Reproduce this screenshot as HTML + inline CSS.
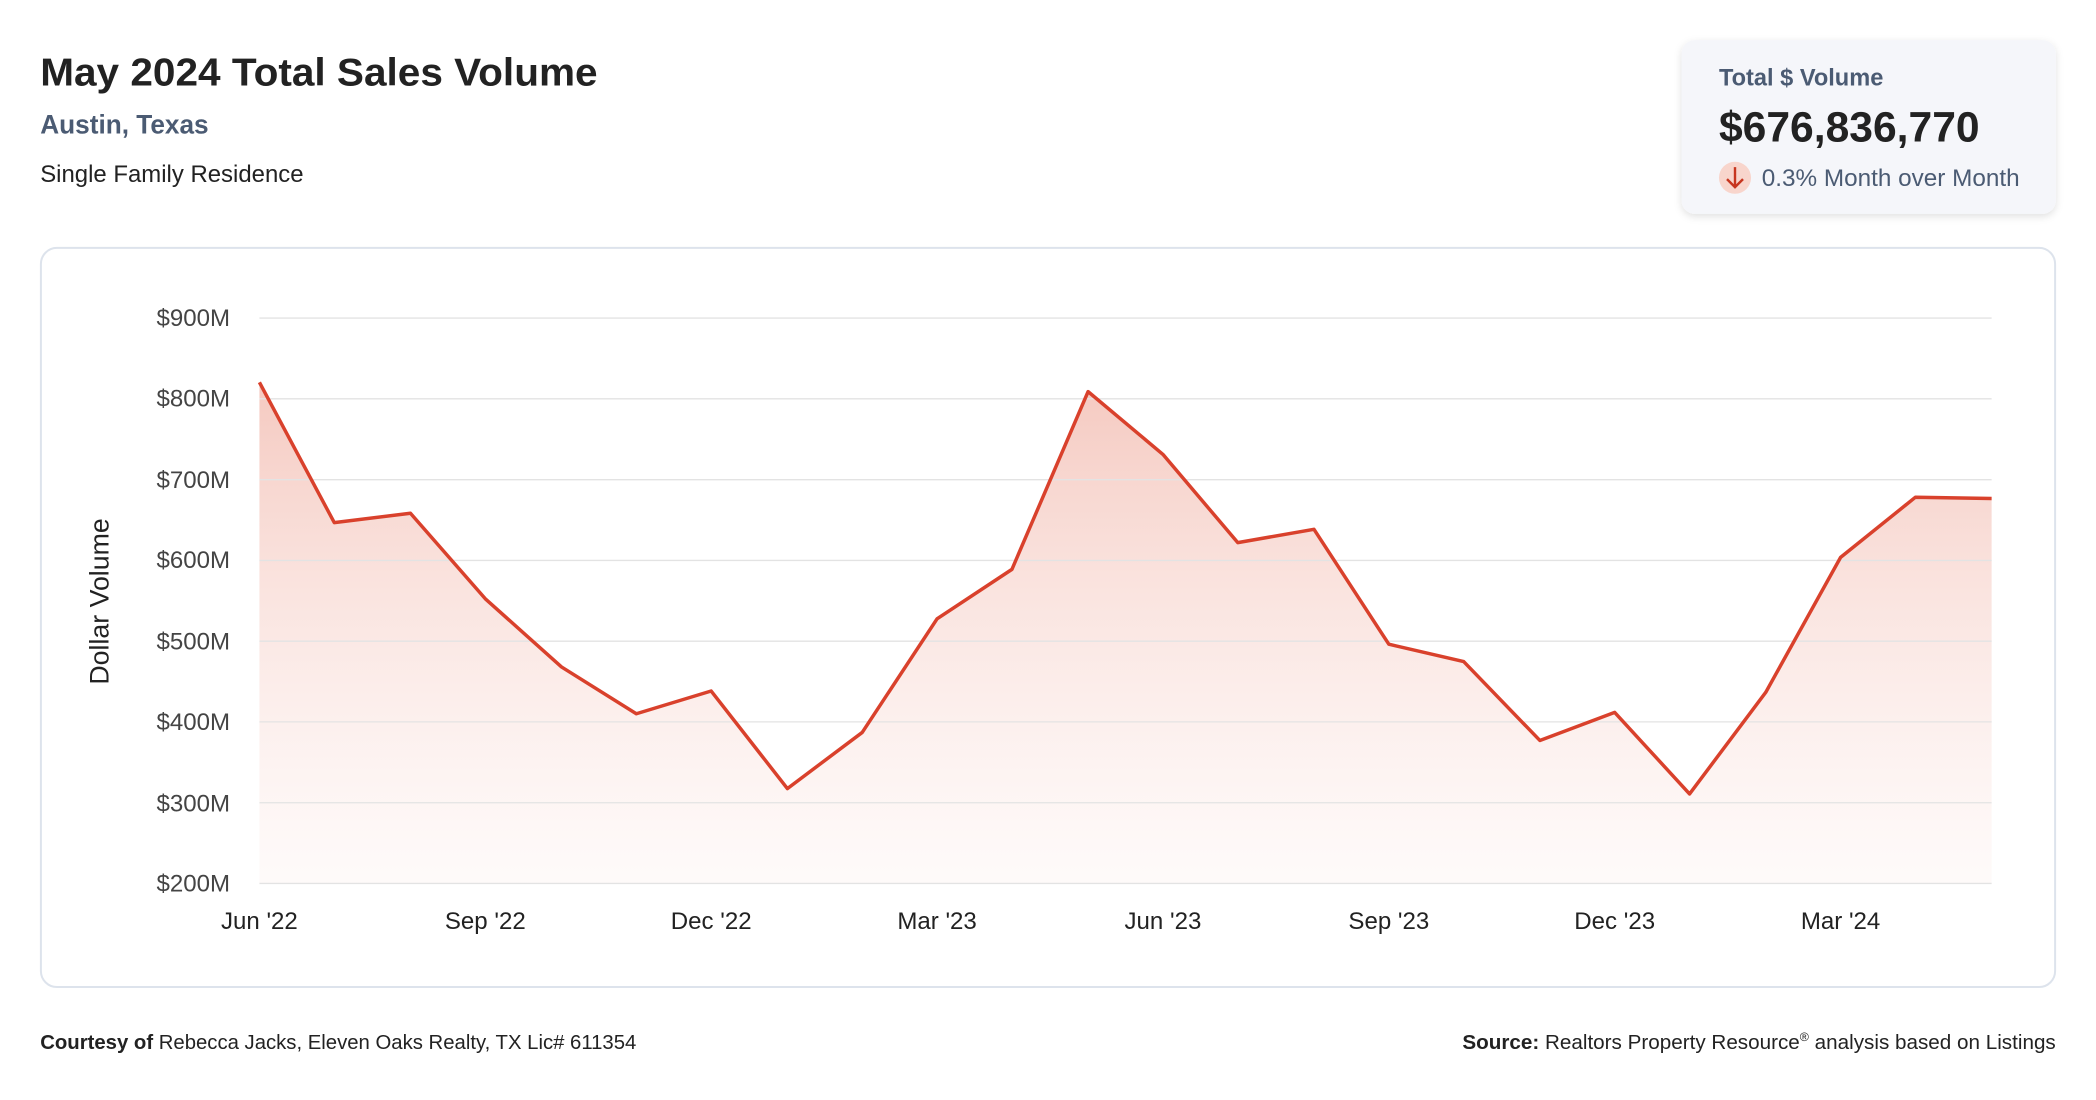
<!DOCTYPE html>
<html><head><meta charset="utf-8"><style>
html,body{margin:0;padding:0;background:#fff;}
svg{display:block;}
text{font-family:"Liberation Sans",Arial,sans-serif;}
</style></head><body>
<svg width="2096" height="1100" viewBox="0 0 1568 823" xmlns="http://www.w3.org/2000/svg">
<defs>
<linearGradient id="g" gradientUnits="userSpaceOnUse" x1="0" y1="286" x2="0" y2="661">
<stop offset="0" stop-color="#f5c9c0" stop-opacity="1"/>
<stop offset="1" stop-color="#fdf3f1" stop-opacity="0.4"/>
</linearGradient>
<filter id="sh" x="-10%" y="-10%" width="120%" height="130%">
<feDropShadow dx="0" dy="2" stdDeviation="3" flood-color="#000" flood-opacity="0.12"/>
</filter>
</defs>
<rect width="1568" height="823" fill="#fff"/>
<text x="30" y="64" font-size="29" font-weight="bold" fill="#222" textLength="417" lengthAdjust="spacingAndGlyphs">May 2024 Total Sales Volume</text>
<text x="30" y="100" font-size="20" font-weight="bold" fill="#4b5b73" textLength="126" lengthAdjust="spacingAndGlyphs">Austin, Texas</text>
<text x="30" y="136" font-size="18" fill="#222" textLength="197" lengthAdjust="spacingAndGlyphs">Single Family Residence</text>

<rect x="1258" y="30" width="280" height="130" rx="10" fill="#f5f6fa" filter="url(#sh)"/>
<text x="1286" y="64" font-size="18" font-weight="bold" fill="#4b5b73" textLength="123" lengthAdjust="spacingAndGlyphs">Total $ Volume</text>
<text x="1286" y="106" font-size="32" font-weight="bold" fill="#222" textLength="195" lengthAdjust="spacingAndGlyphs">$676,836,770</text>
<circle cx="1298" cy="133" r="12" fill="#f8d5cc"/>
<path d="M1298 125 V140 M1292 134 L1298 140 L1304 134" stroke="#c7351f" stroke-width="1.8" fill="none"/>
<text x="1318" y="139" font-size="18" fill="#4b5b73" textLength="193" lengthAdjust="spacingAndGlyphs">0.3% Month over Month</text>

<rect x="30.5" y="185.5" width="1507" height="553" rx="12" fill="#fff" stroke="#dde3ec" stroke-width="1.5"/>

<path fill="url(#g)" d="M194,286 L250,391 L307,384 L363,448 L420,499 L476,534 L532,517 L589,590 L645,548 L701,463 L757,426 L814,293 L870,340 L926,406 L983,396 L1039,482 L1095,495 L1152,554 L1208,533 L1264,594 L1321,518 L1377,417 L1433,372 L1490,373 L1490,661 L194,661 Z"/>

<g stroke="#e3e3e3" stroke-width="1">
<line x1="194" x2="1490" y1="238" y2="238"/>
<line x1="194" x2="1490" y1="298.4" y2="298.4"/>
<line x1="194" x2="1490" y1="358.9" y2="358.9"/>
<line x1="194" x2="1490" y1="419.3" y2="419.3"/>
<line x1="194" x2="1490" y1="479.7" y2="479.7"/>
<line x1="194" x2="1490" y1="540.1" y2="540.1"/>
<line x1="194" x2="1490" y1="600.6" y2="600.6"/>
<line x1="194" x2="1490" y1="661" y2="661"/>
</g>
<g font-size="18" fill="#444" text-anchor="end">
<text x="172" y="244">$900M</text>
<text x="172" y="304">$800M</text>
<text x="172" y="365">$700M</text>
<text x="172" y="425">$600M</text>
<text x="172" y="486">$500M</text>
<text x="172" y="546">$400M</text>
<text x="172" y="607">$300M</text>
<text x="172" y="667">$200M</text>
</g>
<text transform="translate(81,450) rotate(-90)" font-size="20" fill="#222" text-anchor="middle">Dollar Volume</text>

<polyline fill="none" stroke="#d9412c" stroke-width="2.6" stroke-linejoin="round" points="194,286 250,391 307,384 363,448 420,499 476,534 532,517 589,590 645,548 701,463 757,426 814,293 870,340 926,406 983,396 1039,482 1095,495 1152,554 1208,533 1264,594 1321,518 1377,417 1433,372 1490,373"/>

<g font-size="18" fill="#222" text-anchor="middle">
<text x="194" y="695">Jun '22</text>
<text x="363" y="695">Sep '22</text>
<text x="532" y="695">Dec '22</text>
<text x="701" y="695">Mar '23</text>
<text x="870" y="695">Jun '23</text>
<text x="1039" y="695">Sep '23</text>
<text x="1208" y="695">Dec '23</text>
<text x="1377" y="695">Mar '24</text>
</g>

<text x="30" y="785" font-size="15" fill="#222" textLength="446" lengthAdjust="spacingAndGlyphs"><tspan font-weight="bold">Courtesy of</tspan> Rebecca Jacks, Eleven Oaks Realty, TX Lic# 611354</text>
<text x="1538" y="785" font-size="15" fill="#222" text-anchor="end" textLength="444" lengthAdjust="spacingAndGlyphs"><tspan font-weight="bold">Source:</tspan> Realtors Property Resource<tspan font-size="9" dy="-6">®</tspan><tspan dy="6"> analysis based on Listings</tspan></text>
</svg>
</body></html>
